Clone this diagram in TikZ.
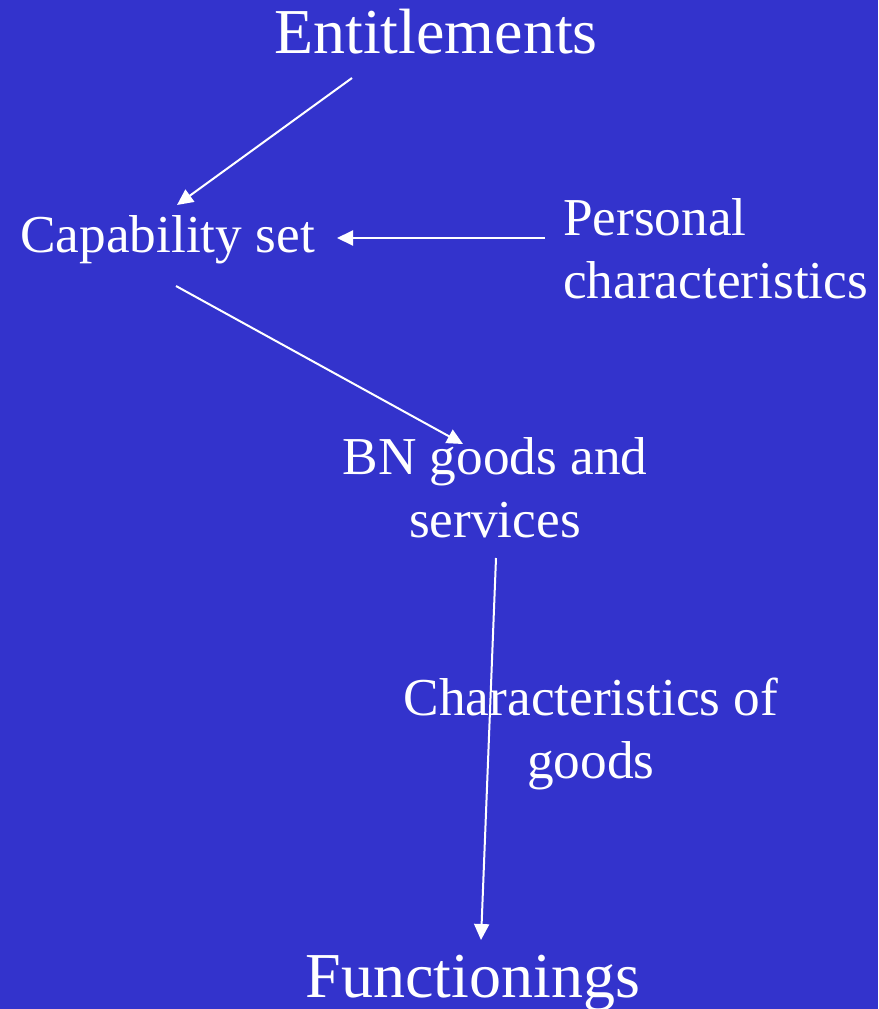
\documentclass[tikz,border=0pt]{standalone}
\usepackage{fontspec}
\setmainfont{Liberation Serif}
\usetikzlibrary{arrows.meta}
\definecolor{bg}{RGB}{51,51,204}
\begin{document}
\begin{tikzpicture}[x=1pt,y=-1pt,
  big/.style={text=white,inner sep=0pt,font=\fontsize{64}{77}\selectfont},
  mid/.style={text=white,inner sep=0pt,font=\fontsize{53.3}{62.5}\selectfont},
  conn/.style={draw=white,line width=2pt,-{Triangle[length=16pt,width=15pt]}}]
\fill[bg] (0,0) rectangle (878,1009);
\useasboundingbox (0,0) rectangle (878,1009);
\node[big,anchor=base] (ent) at (436,53) {Entitlements};
\node[mid,anchor=base west] (cap) at (20,252) {Capability set};
\node[mid,anchor=base west,align=left] (pers) at (563,298) {Personal\\characteristics};
\node[mid,anchor=base,align=center] (bn) at (495,537) {BN goods and\\services};
\node[mid,anchor=base,align=center] (chg) at (591,778) {Characteristics of\\goods};
\node[big,anchor=base] (fun) at (473,997) {Functionings};
\coordinate (a1s) at (352,78);
\coordinate (a1e) at (177,205);
\coordinate (a2s) at (545,238);
\coordinate (a2e) at (337,238);
\coordinate (a3s) at (176,286);
\coordinate (a3e) at (463,444);
\coordinate (a4s) at (496,558);
\coordinate (a4e) at (481,940);
\draw[conn] (a1s) -- (a1e);
\draw[conn] (a2s) -- (a2e);
\draw[conn] (a3s) -- (a3e);
\draw[conn] (a4s) -- (a4e);
\end{tikzpicture}
\end{document}
